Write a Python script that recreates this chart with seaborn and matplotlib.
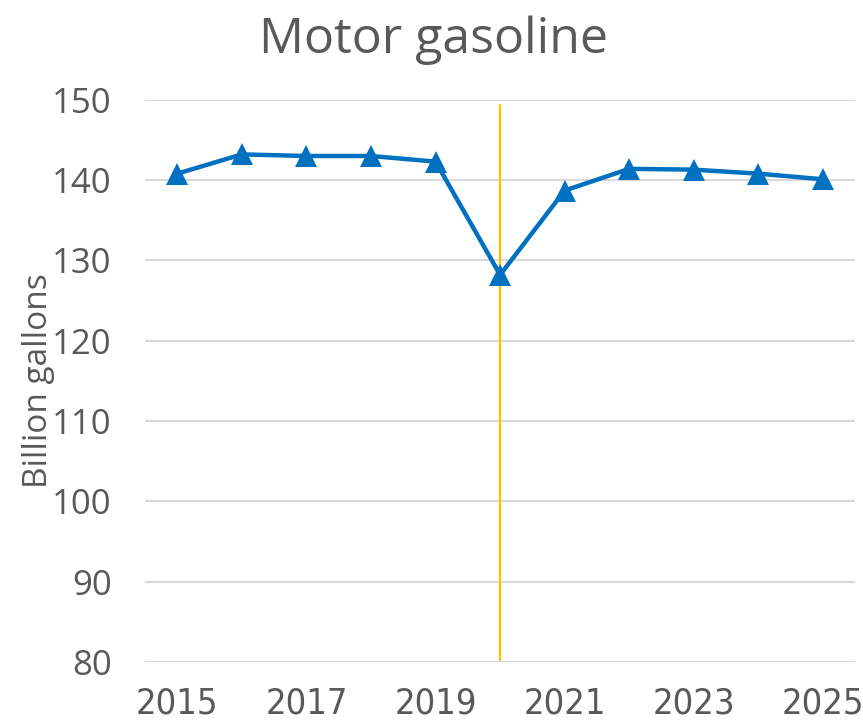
import pandas as pd
import matplotlib.pyplot as plt
import seaborn as sns

# Motor gasoline consumption, billion gallons
years = [2015, 2016, 2017, 2018, 2019, 2020, 2021, 2022, 2023, 2024, 2025]
gallons = [140.8, 143.2, 143.0, 143.0, 142.3, 128.2, 138.7, 141.4, 141.3, 140.8, 140.1]
forecast_year = 2020

df = pd.DataFrame({"year": years, "gallons": gallons})

sns.set_theme(style="white")
plt.rcParams['font.family'] = ['Open Sans', 'DejaVu Sans']

grey = "#595959"
fig = plt.figure(figsize=(8.63, 7.23), dpi=100)
ax = fig.add_axes([0.168, 0.0844, 0.823, 0.7776])

for v in range(80, 151, 10):
    ax.axhline(v, color="#D9D9D9", lw=1.5, zorder=0)

ax.plot([forecast_year, forecast_year], [80.2, 149.4], color="#FFC000", lw=1.6, zorder=1)

sns.lineplot(data=df, x="year", y="gallons", ax=ax, color="#0070C0", lw=3.2,
             marker="^", markersize=16, markeredgewidth=0, zorder=3)

ax.set_xlim(2014.5, 2025.5)
ax.set_ylim(80, 150)
ax.set_yticks(range(80, 151, 10))
ax.set_xticks(years[::2])
ax.set_xticklabels([str(y) for y in years[::2]], family=['DejaVu Sans'], fontstretch='condensed',
                   fontsize=26, color=grey)
ax.tick_params(axis='y', labelsize=25, labelcolor=grey, length=0, pad=24)
ax.tick_params(axis='x', length=0, pad=18)
for s in ax.spines.values():
    s.set_visible(False)

ax.set_xlabel("")
ax.set_ylabel("Billion gallons", fontsize=24, color=grey, labelpad=-2)
fig.text(0.502, 0.945, "Motor gasoline", ha="center", va="center", fontsize=36, color=grey)

fig.savefig("out.png", dpi=100)
